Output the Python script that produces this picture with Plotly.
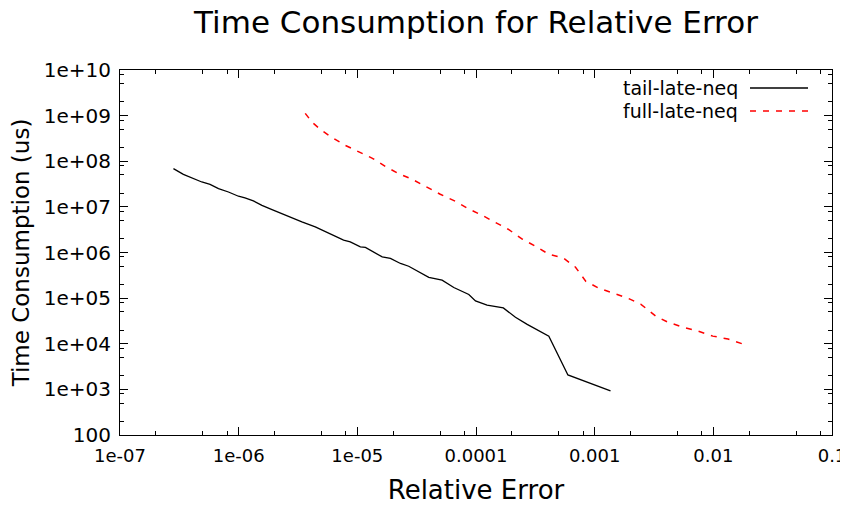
import plotly.graph_objects as go

# ---- data ----
tail_err = [2.82e-7, 3.42e-7, 4.89e-7, 5.74e-7, 6.76e-7, 8.2e-7, 9.96e-7, 1.13e-6,
            1.33e-6, 1.57e-6, 1.91e-6, 2.47e-6, 3.41e-6, 4.42e-6, 5.92e-6, 7.66e-6,
            8.72e-6, 1.06e-5, 1.17e-5, 1.62e-5, 1.90e-5, 2.31e-5, 2.71e-5, 4.0e-5,
            5.18e-5, 6.5e-5, 8.7e-5, 9.9e-5, 1.24e-4, 1.70e-4, 2.15e-4, 2.70e-4,
            4.11e-4, 5.95e-4, 1.36e-3]
tail_time = [6.9e7, 5.17e7, 3.51e7, 3.12e7, 2.51e7, 2.12e7, 1.71e7, 1.57e7,
             1.35e7, 1.08e7, 8.7e6, 6.55e6, 4.68e6, 3.63e6, 2.51e6, 1.86e6,
             1.71e6, 1.33e6, 1.29e6, 8.0e5, 7.4e5, 5.75e5, 5.0e5, 2.84e5,
             2.48e5, 1.71e5, 1.2e5, 8.7e4, 7.0e4, 6.1e4, 3.8e4, 2.66e4,
             1.47e4, 2.07e3, 923]

full_err = [3.64e-6, 4.17e-6, 4.88e-6, 5.92e-6, 7.92e-6, 1.02e-5, 1.34e-5, 1.72e-5,
            2.22e-5, 2.91e-5, 3.9e-5, 5.0e-5, 6.7e-5, 8.5e-5, 1.13e-4, 1.46e-4,
            1.88e-4, 2.47e-4, 3.18e-4, 4.09e-4, 5.47e-4, 6.9e-4, 8.4e-4, 1.08e-3,
            1.42e-3, 1.90e-3, 2.44e-3, 3.27e-3, 4.13e-3, 5.53e-3, 7.4e-3, 9.9e-3,
            1.33e-2, 1.88e-2]
full_time = [1.12e9, 7.1e8, 4.99e8, 3.5e8, 2.23e8, 1.65e8, 1.16e8, 7.7e7,
             5.4e7, 4.0e7, 2.68e7, 1.89e7, 1.33e7, 9.3e6, 6.5e6, 4.6e6,
             3.2e6, 1.95e6, 1.37e6, 9.2e5, 7.5e5, 4.76e5, 2.35e5, 1.66e5,
             1.29e5, 1.0e5, 7.4e4, 4.04e4, 2.98e4, 2.32e4, 1.9e4, 1.47e4,
             1.27e4, 9.4e3]

x_tickvals = [1e-7, 1e-6, 1e-5, 1e-4, 1e-3, 1e-2, 1e-1]
x_ticktext = ["1e-07", "1e-06", "1e-05", "0.0001", "0.001", "0.01", "0.1"]
y_tickvals = [1e2, 1e3, 1e4, 1e5, 1e6, 1e7, 1e8, 1e9, 1e10]
y_ticktext = ["100", "1e+03", "1e+04", "1e+05", "1e+06", "1e+07", "1e+08", "1e+09", "1e+10"]

series_names = ["tail-late-neq", "full-late-neq"]

# minor ticks (2, 5, 8 within each decade)
x_minor = [m * 10.0 ** e for e in range(-7, -1) for m in (2, 5, 8)]
y_minor = [m * 10.0 ** e for e in range(2, 10) for m in (2, 5, 8)]

FONT = "DejaVu Sans"
PAGE_OFF = 8  # default body margin of the html page

fig = go.Figure()
fig.add_trace(go.Scatter(x=tail_err, y=tail_time, mode="lines", name=series_names[0],
                         line=dict(color="black", width=1.3), showlegend=False))
fig.add_trace(go.Scatter(x=full_err, y=full_time, mode="lines", name=series_names[1],
                         line=dict(color="red", width=1.5, dash="6px,7px"), showlegend=False))

axis_common = dict(
    type="log", showline=True, linecolor="black", linewidth=1, mirror="allticks",
    ticks="inside", ticklen=8, tickwidth=1, tickcolor="black",
    showgrid=False, zeroline=False, automargin=False,
)

fig.update_xaxes(**axis_common, range=[-7, -1], tickvals=x_tickvals, ticktext=x_ticktext,
                 tickfont=dict(family=FONT, size=18, color="black"), ticklabelstandoff=4,
                 minor=dict(tickvals=x_minor, ticks="inside", ticklen=4, tickcolor="black", showgrid=False),
                 title=dict(text="Relative Error", font=dict(family=FONT, size=26, color="black"), standoff=16))
fig.update_yaxes(**axis_common, range=[2, 10], tickvals=y_tickvals, ticktext=y_ticktext,
                 tickfont=dict(family=FONT, size=20, color="black"), ticklabelstandoff=4,
                 minor=dict(tickvals=y_minor, ticks="inside", ticklen=4, tickcolor="black", showgrid=False),
                 title=dict(text="Time Consumption (us)", font=dict(family=FONT, size=23, color="black"), standoff=9))

# gnuplot-style legend: right-aligned text with line sample on its right
legend_rows = [(series_names[0], dict(color="black", width=1.3)),
               (series_names[1], dict(color="red", width=1.5, dash="6px,7px"))]
shapes = []
annotations = []
plot_l, plot_r, plot_t, plot_b = 120, 832, 70, 435
def px_x(px):
    return (px - plot_l) / (plot_r - plot_l)
def px_y(py):
    return (plot_b - py) / (plot_b - plot_t)
for i, (name, ln) in enumerate(legend_rows):
    yy = 88 + i * 23
    annotations.append(dict(x=px_x(740), y=px_y(yy), xref="paper", yref="paper",
                            text=name, showarrow=False, xanchor="right", yanchor="middle",
                            font=dict(family=FONT, size=19, color="black")))
    shapes.append(dict(type="line", xref="paper", yref="paper",
                       x0=px_x(750), x1=px_x(808), y0=px_y(yy), y1=px_y(yy), line=ln))

W, H = 848 - PAGE_OFF, 505 - PAGE_OFF
fig.update_layout(
    width=W, height=H,
    margin=dict(l=plot_l - PAGE_OFF, r=848 - plot_r, t=plot_t - PAGE_OFF, b=505 - plot_b,
                autoexpand=False),
    paper_bgcolor="white", plot_bgcolor="white",
    title=dict(text="Time Consumption for Relative Error", x=(476 - PAGE_OFF) / W, xanchor="center",
               y=1 - (22 - PAGE_OFF) / H, yanchor="middle", font=dict(family=FONT, size=31, color="black")),
    font=dict(family=FONT, color="black"),
    shapes=shapes, annotations=annotations,
)

fig.write_html("out.html")
